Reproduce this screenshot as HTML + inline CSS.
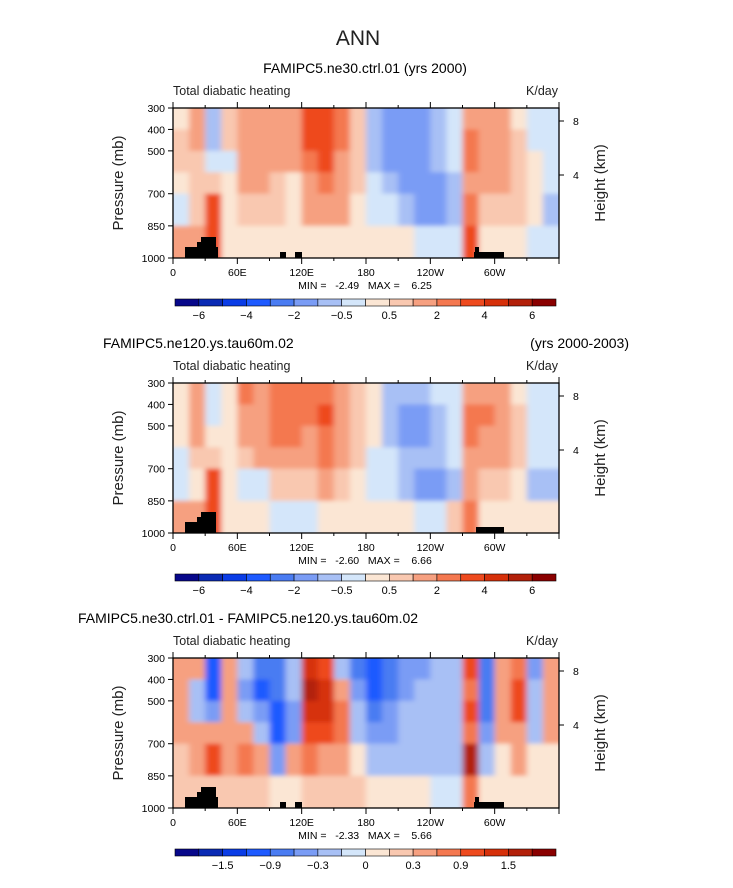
<!DOCTYPE html>
<html><head><meta charset="utf-8"><style>
html,body{margin:0;padding:0;background:#fff;}
svg{display:block;font-family:"Liberation Sans",sans-serif;}
</style></head><body>
<svg id="fig" width="733" height="888" viewBox="0 0 733 888">
<defs><filter id="soft" x="-5%" y="-10%" width="110%" height="120%"><feGaussianBlur stdDeviation="3 2" edgeMode="duplicate"/></filter></defs>
</svg>
<script>
const lonCategories = ["0","15","30","45","60","75","90","105","120","135","150","165","180","195","210","225","240","255","270","285","300","315","330","345"];
const pressureLevels = [300,400,500,600,700,850,1000];
const xTickLabels = ["0","60E","120E","180","120W","60W"];
const yTickLabels = [300,400,500,700,850,1000];
const heightTicks = [8,4];
const levels1 = [-6,-5,-4,-3,-2,-1,-0.5,0,0.5,1,2,3,4,5,6];
const levels3 = [-1.8,-1.5,-1.2,-0.9,-0.6,-0.3,-0.1,0,0.1,0.3,0.6,0.9,1.2,1.5,1.8];
const cbLabels1 = ["−6","−4","−2","−0.5","0.5","2","4","6"];
const cbLabels3 = ["−1.5","−0.9","−0.3","0","0.3","0.9","1.5"];
const field1 = [
[0.3,0.5,0.5,0.3,-0.3,1],[1,1,0.8,0.5,0.5,1.5],[-0.8,-0.8,-0.5,0.5,3,3],[0.5,0.5,-0.3,0.3,0.3,0.3],
[1.5,1.5,1,1,0.5,0.3],[1,1.5,1.5,1,0.5,0.3],[1.5,1.5,1.5,0.5,0.5,0.3],[1.5,1.5,1,0.3,0.3,0.3],
[3,3,2.5,1.5,1,0.3],[3.5,3.5,3,2,1,0.3],[2,2,1.5,1.5,1,0.3],[0.5,0.8,0.8,0.5,0.3,0.3],
[-1,-1,-0.8,-0.5,-0.3,0.2],[-1.5,-1.5,-1.5,-1,-0.5,0.2],[-1.5,-1.5,-1.5,-1.5,-0.8,0.2],[-1.5,-1.5,-1.5,-1.5,-1.5,-0.3],
[-0.8,-0.8,-1,-1.5,-1.5,-0.5],[-0.5,-0.5,-0.5,-0.8,-1,-0.5],[1.5,2,2,1.5,2,3],[1,1.5,1.5,1,0.5,0.3],
[1.5,1.5,1.5,1,0.5,0.3],[0.3,0.5,0.8,0.8,0.5,0.3],[-0.3,-0.3,0.3,0.3,0.3,-0.3],[-0.3,-0.3,-0.3,-0.3,-0.8,-0.3]];
const field2 = [
[0.3,0.3,0.3,-0.3,-0.3,1],[1.5,1.5,1,0.5,0.3,1.5],[-0.5,-0.5,0.3,0.5,3,3],[0.3,0.3,0.3,0.3,0.3,0.3],
[2,1.5,1,0.5,-0.3,0.3],[1.5,1.5,1.5,1,-0.3,0.3],[2,2.5,2,1.5,0.5,-0.3],[2,2,2,1.5,0.5,-0.3],
[2,2,1.5,1.5,0.5,-0.3],[2.5,3,2.5,2,1,0.3],[1.5,1.5,1.5,1.5,0.5,0.3],[0.8,0.8,0.8,0.5,0.3,0.3],
[0.3,0.3,0.3,-0.3,-0.3,0.3],[-0.8,-0.8,-0.8,-0.5,-0.5,0.2],[-0.8,-1.5,-1.5,-0.8,-1,0.2],[-0.8,-1.5,-1.5,-0.8,-1.5,-0.3],
[-0.5,-0.8,-0.8,-0.8,-1.5,-0.3],[-0.3,-0.5,-0.5,-0.5,-1,0.5],[1.5,2,2,1.5,1.5,2],[1.5,2,1.5,1.5,0.5,0.3],
[1,1.5,1.5,1,0.5,0.3],[0.3,0.5,0.5,0.5,0.3,0.3],[-0.3,-0.3,-0.3,-0.3,-0.8,0.3],[-0.5,-0.5,-0.3,-0.3,-0.8,0.3]];
const field3 = [
[0.4,0.4,0.4,0.4,0.2,0.2],[0.3,-0.3,-0.3,0.3,0.3,0.2],[-1.0,-1.0,-0.6,0.3,0.9,0.2],[0.3,0.3,0.3,0.3,0.3,0.2],
[-0.3,-0.6,-0.3,0.3,0.6,0.2],[-0.9,-1.0,-0.6,-0.3,0.3,0.2],[-0.9,-0.9,-1.2,-1.2,-0.6,0.05],[-0.3,-0.3,-0.6,-0.6,0.3,0.05],
[1.2,1.5,1.2,0.9,0.6,0.2],[0.9,1.2,1.2,0.9,0.3,0.2],[-0.3,0.3,0.6,0.6,0.3,0.2],[-0.9,-0.6,-0.3,-0.3,0.05,0.2],
[-1.2,-1.2,-0.9,-0.6,-0.3,0.05],[-0.9,-0.9,-0.6,-0.6,-0.2,0.05],[-0.6,-0.6,-0.3,-0.3,-0.2,0.05],[-0.6,-0.3,-0.3,-0.3,-0.2,0.05],
[-0.3,-0.3,-0.3,-0.2,-0.2,-0.05],[-0.3,-0.3,-0.3,-0.3,-0.2,-0.05],[0.9,0.6,0.9,0.6,1.5,0.6],[-0.9,-0.9,-0.9,-0.6,-0.3,0.05],
[0.3,0.3,0.3,0.3,0.05,0.05],[0.6,0.9,0.9,0.3,0.3,0.05],[-0.6,-0.3,-0.3,-0.3,0.05,0.05],[0.3,0.3,0.3,0.3,0.05,0.05]];
const palette = ['#07078a','#0a2ab4','#0a3ce6','#1e5aff','#4a7cf2','#7a9cf5','#a8c0f5','#d4e6fa','#fbe6d4','#f9c8b0','#f6a080','#f47850','#ee4a1e','#d6300a','#b2200a','#8a0000'];

const NS="http://www.w3.org/2000/svg";
const svg=document.getElementById('fig');
function mk(tag,attrs,parent){const e=document.createElementNS(NS,tag);for(const k in attrs)e.setAttribute(k,attrs[k]);(parent||svg).appendChild(e);return e;}
function txt(s,x,y,size,anchor,parent){const t=mk('text',{x:x,y:y,'font-size':size,'text-anchor':anchor||'start',fill:'#000'},parent);t.textContent=s;return t;}
const X0=173,X1=559;
function xScale(lon){return X0+(lon/360)*(X1-X0);}
function colorFor(v,lv){let i=0;while(i<lv.length&&v>=lv[i])i++;return palette[i];}
const defs=svg.querySelector('defs');

function panel(top,field,levels,cbLabels,minmax,name,cbStep,topoBoxes){
  const bot=top+150;
  const yScale=p=>top+(p-300)/700*150;
  const g=mk('g',{});
  
  
  const cp=mk('clipPath',{id:'clip-'+name},defs);
  mk('rect',{x:X0,y:top,width:X1-X0,height:150},cp);
  const outer=mk('g',{'clip-path':'url(#clip-'+name+')'},g);
  const cells=mk('g',{filter:'url(#soft)'},outer);
  
  
  field.forEach((col,i)=>{
    col.forEach((v,j)=>{
      let x=xScale(+lonCategories[i]), x2=xScale(+lonCategories[i]+15);
      let y=yScale(pressureLevels[j]), y2=yScale(pressureLevels[j+1]);
      if(i===0)x-=10; if(i===field.length-1)x2+=10;
      if(j===0)y-=10; if(j===col.length-1)y2+=10;
      const r=mk('rect',{x:x,y:y,width:x2-x+0.5,height:y2-y+0.5,fill:colorFor(v,levels)},cells);
      
      
    });
  });
  const topo=mk('g',{fill:'#000'},g);
  
  
  const d=top-108;
  topoBoxes.forEach(b=>mk('rect',{x:b[0],y:b[1]+d,width:b[2],height:258-b[1]},topo));
  mk('rect',{x:X0,y:top,width:X1-X0,height:150,fill:'none',stroke:'#000','stroke-width':1.3},g);
  for(let lon=0;lon<=360;lon+=30){
    const x=xScale(lon), L=lon%60===0?6:3;
    mk('line',{x1:x,y1:bot,x2:x,y2:bot+L,stroke:'#000'},g);
    mk('line',{x1:x,y1:top,x2:x,y2:top-L,stroke:'#000'},g);
  }
  xTickLabels.forEach((s,i)=>{const t=txt(s,xScale(i*60),bot+18,10.5,'middle',g);});
  yTickLabels.forEach(p=>{const y=yScale(p);mk('line',{x1:X0,y1:y,x2:X0-5,y2:y,stroke:'#000'},g);const t=txt(String(p),X0-8,y+4,10.5,'end',g);});
  const hy=[top+13,top+67];
  heightTicks.forEach((h,i)=>{mk('line',{x1:X1,y1:hy[i],x2:X1+5,y2:hy[i],stroke:'#000'},g);const t=txt(String(h),X1+14,hy[i]+4,10.5,'start',g);});
  let t=txt('Pressure (mb)',0,0,15,'middle',g);t.setAttribute('transform',`translate(123,${top+75}) rotate(-90)`);t.setAttribute('fill','#222');
  t=txt('Height (km)',0,0,15,'middle',g);t.setAttribute('transform',`translate(605,${top+75}) rotate(-90)`);t.setAttribute('fill','#222');
  t=txt('Total diabatic heating',173,top-13,12.5,'start',g);t.setAttribute('fill','#222');
  t=txt('K/day',558,top-13,12.5,'end',g);t.setAttribute('fill','#222');
  t=txt(minmax,365,bot+31,10.5,'middle',g);t.style.whiteSpace='pre';
  const cb=mk('g',{},g);
  
  
  const cy=top+191, cx0=175, cw=(556-175)/16;
  palette.forEach((c,i)=>mk('rect',{x:cx0+i*cw,y:cy,width:cw,height:7,fill:c,stroke:'#000','stroke-width':0.6},cb));
  cbLabels.forEach((s,k)=>{const idx=cbStep.start+k*2;const x=cx0+(idx+1)*cw;const tt=txt(s,x,cy+20,11,'middle',cb);});
}
let t=txt('ANN',358,45,21,'middle');t.setAttribute('fill','#222');
t=txt('FAMIPC5.ne30.ctrl.01 (yrs 2000)',365,73,14,'middle');
t=txt('FAMIPC5.ne120.ys.tau60m.02',103,348,14,'start');
t=txt('(yrs 2000-2003)',629,348,14,'end');
t=txt('FAMIPC5.ne30.ctrl.01 - FAMIPC5.ne120.ys.tau60m.02',78,623,14,'start');
const topoA=[[185,247,12],[197,242,4],[201,237,15],[216,247,2],[280,252,6],[295,252,7],[474,252,30],[475,247,4]];
const topoB=[[185,247,12],[197,242,4],[201,237,15],[476,252,28]];
panel(108,field1,levels1,cbLabels1,'MIN =   -2.49   MAX =    6.25','panel1',{start:0},topoA);
panel(383,field2,levels1,cbLabels1,'MIN =   -2.60   MAX =    6.66','panel2',{start:0},topoB);
panel(658,field3,levels3,cbLabels3,'MIN =   -2.33   MAX =    5.66','panel3',{start:1},topoA);
</script>
</body></html>
